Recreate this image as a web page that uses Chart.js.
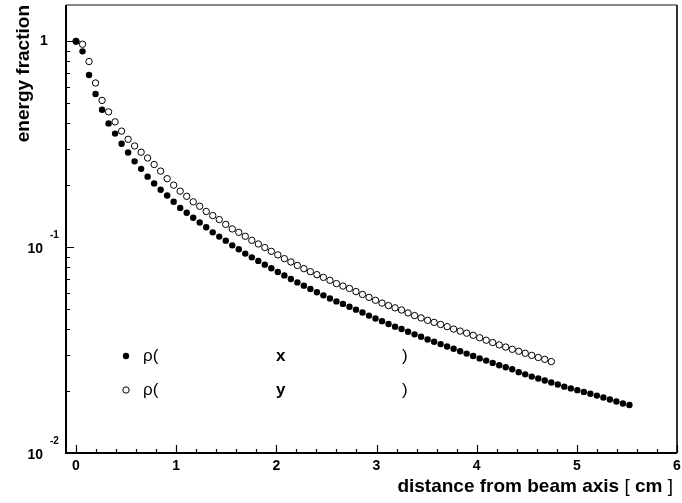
<!DOCTYPE html>
<html lang="en">
<head>
    <meta charset="UTF-8">
    <title>Energy fraction vs distance from beam axis</title>
    <style>
        html, body { margin: 0; padding: 0; background: #fff; }
        #chart { display: block; }
    </style>
    <script src="https://cdn.jsdelivr.net/npm/chart.js"></script>
</head>
<body>
    <canvas id="chart" width="682" height="503"></canvas>

    <script>
        // distance from beam axis [cm], shared by both profiles
        const distance = [
            0, 0.065, 0.13, 0.195, 0.26, 0.325, 0.39, 0.455, 0.52, 0.585,
            0.65, 0.715, 0.78, 0.845, 0.91, 0.975, 1.04, 1.105, 1.17, 1.235,
            1.3, 1.365, 1.43, 1.495, 1.56, 1.625, 1.69, 1.755, 1.82, 1.885,
            1.95, 2.015, 2.08, 2.145, 2.21, 2.275, 2.34, 2.405, 2.47, 2.535,
            2.6, 2.665, 2.73, 2.795, 2.86, 2.925, 2.99, 3.055, 3.12, 3.185,
            3.25, 3.315, 3.38, 3.445, 3.51, 3.575, 3.64, 3.705, 3.77, 3.835,
            3.9, 3.965, 4.03, 4.095, 4.16, 4.225, 4.29, 4.355, 4.42, 4.485,
            4.55, 4.615, 4.68, 4.745, 4.81, 4.875, 4.94, 5.005, 5.07, 5.135,
            5.2, 5.265, 5.33, 5.395, 5.46, 5.525
        ];

        // rho(x): filled circles
        const rhoX = [
            1.0, 0.893, 0.686, 0.554, 0.465, 0.399, 0.356, 0.318, 0.288, 0.261,
            0.240, 0.220, 0.204, 0.190, 0.178, 0.166, 0.155, 0.147, 0.139, 0.1316,
            0.1249, 0.118, 0.1125, 0.1075, 0.102, 0.0976, 0.0930, 0.0892, 0.0857, 0.0822,
            0.0789, 0.0757, 0.0729, 0.0700, 0.0674, 0.0650, 0.0626, 0.0604, 0.0583, 0.0563,
            0.0545, 0.0530, 0.0513, 0.0497, 0.0481, 0.0465, 0.0450, 0.0437, 0.0423, 0.0411,
            0.0400, 0.0388, 0.0377, 0.0367, 0.0356, 0.0347, 0.0338, 0.0329, 0.0321, 0.0312,
            0.0304, 0.0296, 0.0288, 0.0281, 0.0274, 0.0267, 0.0261, 0.0255, 0.0247, 0.0241,
            0.0235, 0.0230, 0.0225, 0.0220, 0.0215, 0.0210, 0.0206, 0.0202, 0.0198, 0.0194,
            0.0190, 0.0186, 0.0182, 0.0178, 0.0174, 0.0171
        ];

        // rho(y): open circles
        const rhoY = [
            1.0, 0.967, 0.797, 0.627, 0.516, 0.454, 0.406, 0.366, 0.334, 0.310,
            0.289, 0.271, 0.252, 0.234, 0.215, 0.200, 0.187, 0.1765, 0.166, 0.158,
            0.149, 0.1423, 0.1361, 0.129, 0.1226, 0.118, 0.1129, 0.1079, 0.1036, 0.0995,
            0.0954, 0.0917, 0.0879, 0.0847, 0.0815, 0.0786, 0.0760, 0.0735, 0.0713, 0.0690,
            0.0665, 0.0647, 0.0630, 0.0608, 0.0589, 0.0570, 0.0552, 0.0535, 0.0520, 0.0507,
            0.0495, 0.0479, 0.0465, 0.0453, 0.0441, 0.0431, 0.0421, 0.0411, 0.0400, 0.0391,
            0.0382, 0.0373, 0.0363, 0.0353, 0.0344, 0.0335, 0.0327, 0.0319, 0.0312, 0.0305,
            0.0298, 0.0291, 0.0285, 0.0278
        ];

        const xTickValues = [0, 1, 2, 3, 4, 5, 6];
        const yTickValues = [0.01, 0.1, 1];
        const yTickBase = ['10', '10', '1'];
        const yTickExp = ['-2', '-1', ''];
        const legendNames = ['x', 'y'];

        const FAMILY = '"Liberation Sans", Arial, sans-serif';

        // axes, ticks, labels and legend in ROOT style
        const rootFrame = {
            id: 'rootFrame',
            afterDraw(chart) {
                const ctx = chart.ctx;
                const area = chart.chartArea;
                const sx = chart.scales.x;
                const sy = chart.scales.y;
                ctx.save();

                // top / right frame
                ctx.lineWidth = 2;
                ctx.strokeStyle = '#888';
                ctx.beginPath();
                ctx.moveTo(area.left, area.top);
                ctx.lineTo(area.right, area.top);
                ctx.stroke();
                ctx.strokeStyle = '#333';
                ctx.beginPath();
                ctx.moveTo(area.right, area.top);
                ctx.lineTo(area.right, area.bottom);
                ctx.stroke();

                // axes
                ctx.strokeStyle = '#000';
                ctx.beginPath();
                ctx.moveTo(area.left, area.top);
                ctx.lineTo(area.left, area.bottom);
                ctx.lineTo(area.right, area.bottom);
                ctx.stroke();

                // x ticks (inside)
                ctx.lineWidth = 1.2;
                ctx.beginPath();
                for (let v = 0; v <= 6.001; v += 0.2) {
                    const px = Math.round(sx.getPixelForValue(v)) + 0.5;
                    const major = Math.abs(v - Math.round(v)) < 1e-6;
                    ctx.moveTo(px, area.bottom);
                    ctx.lineTo(px, area.bottom - (major ? 8 : 4));
                }
                // y ticks (inside), decades plus 2..9
                yTickValues.forEach((dec, i) => {
                    const py = Math.round(sy.getPixelForValue(dec)) + 0.5;
                    ctx.moveTo(area.left, py);
                    ctx.lineTo(area.left + 8, py);
                    if (i < yTickValues.length - 1) {
                        for (let m = 2; m <= 9; m++) {
                            const my = Math.round(sy.getPixelForValue(dec * m)) + 0.5;
                            ctx.moveTo(area.left, my);
                            ctx.lineTo(area.left + 4, my);
                        }
                    }
                });
                ctx.stroke();

                // x tick labels
                ctx.fillStyle = '#000';
                ctx.font = 'bold 14px ' + FAMILY;
                ctx.textAlign = 'center';
                ctx.textBaseline = 'middle';
                xTickValues.forEach(v => {
                    ctx.fillText(String(v), sx.getPixelForValue(v), area.bottom + 13);
                });

                // y tick labels with superscript exponents
                yTickValues.forEach((v, i) => {
                    const py = sy.getPixelForValue(v);
                    ctx.font = 'bold 14px ' + FAMILY;
                    ctx.textBaseline = 'middle';
                    if (yTickExp[i]) {
                        ctx.textAlign = 'right';
                        ctx.fillText(yTickBase[i], 43, py + 2);
                        ctx.font = 'bold 10px ' + FAMILY;
                        ctx.textAlign = 'left';
                        ctx.fillText(yTickExp[i], 50, py - 12);
                    } else {
                        ctx.textAlign = 'center';
                        ctx.fillText(yTickBase[i], 44, py);
                    }
                });

                // axis titles
                ctx.font = 'bold 19px ' + FAMILY;
                ctx.save();
                ctx.translate(24, area.top);
                ctx.rotate(-Math.PI / 2);
                ctx.textAlign = 'right';
                ctx.textBaseline = 'middle';
                ctx.fillText('energy fraction', 0, 0);
                ctx.restore();

                const parts = [
                    ['distance from beam axis ', 'bold 19px ' + FAMILY],
                    ['[', '19px ' + FAMILY],
                    [' cm ', 'bold 19px ' + FAMILY],
                    [']', '19px ' + FAMILY]
                ];
                let total = 0;
                parts.forEach(p => { ctx.font = p[1]; total += ctx.measureText(p[0]).width; });
                let tx = 673 - total;
                ctx.textAlign = 'left';
                ctx.textBaseline = 'middle';
                parts.forEach(p => {
                    ctx.font = p[1];
                    ctx.fillText(p[0], tx, 487);
                    tx += ctx.measureText(p[0]).width;
                });

                // legend
                const rows = [356, 390];
                rows.forEach((ry, i) => {
                    ctx.beginPath();
                    ctx.arc(126, ry, 3.2, 0, Math.PI * 2);
                    if (i === 0) {
                        ctx.fillStyle = '#000';
                        ctx.fill();
                    } else {
                        ctx.fillStyle = '#fff';
                        ctx.fill();
                        ctx.lineWidth = 1;
                        ctx.strokeStyle = '#000';
                        ctx.stroke();
                    }
                    ctx.fillStyle = '#000';
                    ctx.textAlign = 'left';
                    ctx.textBaseline = 'middle';
                    ctx.font = '17px ' + FAMILY;
                    ctx.fillText('\u03C1(', 143, ry);
                    ctx.font = 'bold 17px ' + FAMILY;
                    ctx.fillText(legendNames[i], 276, ry);
                    ctx.font = '17px ' + FAMILY;
                    ctx.fillText(')', 402, ry);
                });

                ctx.restore();
            }
        };

        const ctx = document.getElementById('chart').getContext('2d');
        new Chart(ctx, {
            type: 'scatter',
            data: {
                datasets: [
                    {
                        label: 'rho(x)',
                        data: rhoX.map((v, i) => ({ x: distance[i], y: v })),
                        pointRadius: 3.2,
                        pointBackgroundColor: '#000',
                        pointBorderWidth: 0,
                        showLine: false
                    },
                    {
                        label: 'rho(y)',
                        data: rhoY.map((v, i) => ({ x: distance[i], y: v })),
                        pointRadius: 3.2,
                        pointBackgroundColor: '#fff',
                        pointBorderColor: '#000',
                        pointBorderWidth: 1,
                        showLine: false
                    }
                ]
            },
            options: {
                responsive: false,
                animation: false,
                devicePixelRatio: 1,
                layout: { padding: { left: 66, right: 1, top: 5, bottom: 50 } },
                scales: {
                    x: { type: 'linear', min: -0.1, max: 6, display: false },
                    y: { type: 'logarithmic', min: 0.01, max: 1.5, display: false }
                },
                plugins: {
                    legend: { display: false },
                    tooltip: { enabled: false }
                }
            },
            plugins: [rootFrame]
        });
    </script>
</body>
</html>
